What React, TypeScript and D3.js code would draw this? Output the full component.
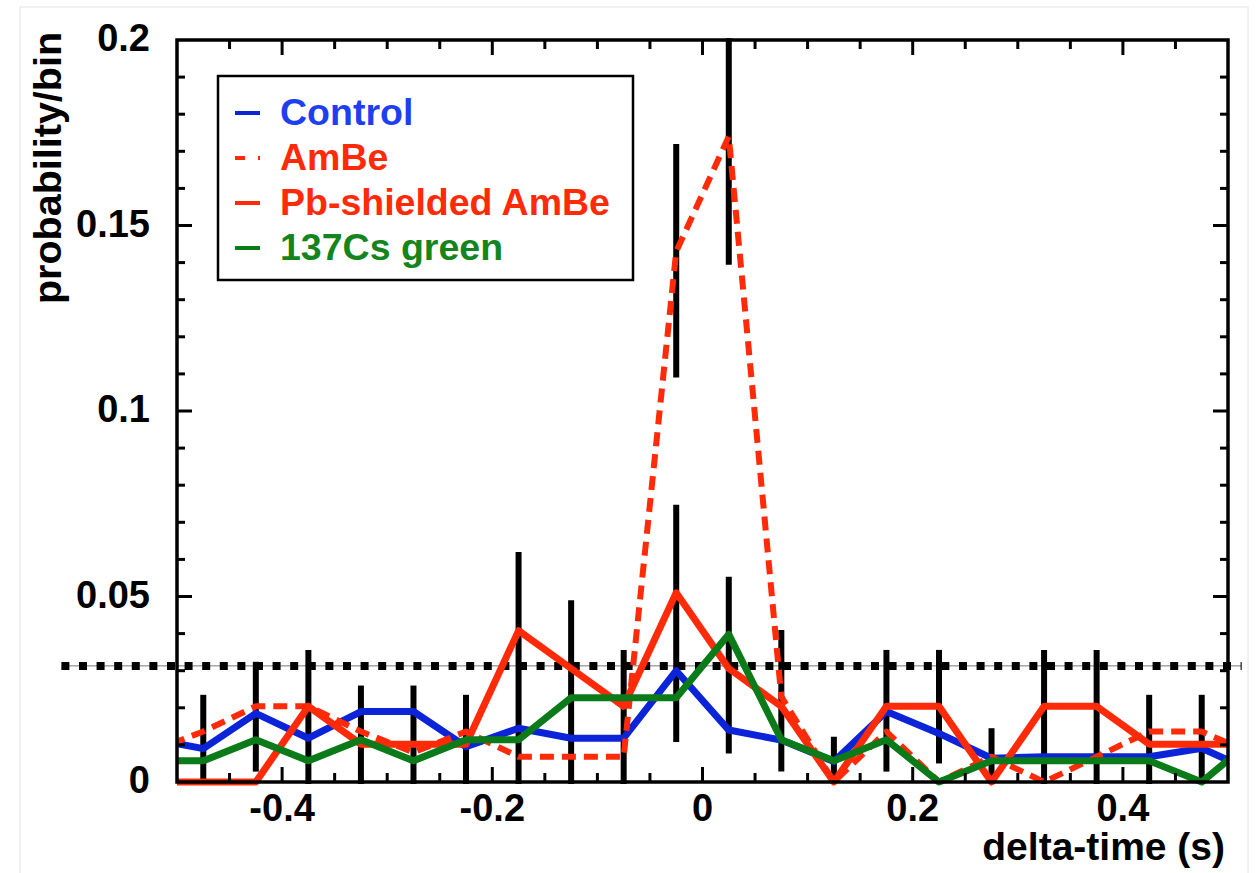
import React from "react";
import * as d3 from "d3";

// ---- data ----
const binCenters = [-0.525, -0.475, -0.425, -0.375, -0.325, -0.275, -0.225, -0.175, -0.125, -0.075, -0.025, 0.025, 0.075, 0.125, 0.175, 0.225, 0.275, 0.325, 0.375, 0.425, 0.475, 0.525];
const control = [0.0117, 0.009, 0.0185, 0.0118, 0.019, 0.019, 0.0095, 0.0145, 0.0118, 0.0118, 0.030, 0.014, 0.0113, 0.0055, 0.019, 0.0131, 0.0064, 0.0068, 0.0068, 0.0068, 0.0091, 0.0027];
const amBe = [0.0082, 0.0136, 0.0204, 0.0204, 0.0136, 0.008, 0.0136, 0.0068, 0.0068, 0.0068, 0.143, 0.174, 0.023, 0.0, 0.0136, 0.0, 0.0068, 0.0, 0.0068, 0.0136, 0.0136, 0.0074];
const pbShielded = [0, 0, 0, 0.0204, 0.0102, 0.0102, 0.0102, 0.0408, 0.0306, 0.0204, 0.051, 0.0306, 0.0204, 0, 0.0204, 0.0204, 0, 0.0204, 0.0204, 0.0102, 0.0102, 0.0102];
const cs137 = [0.0057, 0.0057, 0.0114, 0.0057, 0.0114, 0.0057, 0.0114, 0.0114, 0.0227, 0.0227, 0.0227, 0.0398, 0.0114, 0.0057, 0.0114, 0, 0.0057, 0.0057, 0.0057, 0.0057, 0, 0.0118];

const errX = [-0.475, -0.425, -0.375, -0.325, -0.275, -0.225, -0.175, -0.125, -0.075, -0.025, -0.025, 0.025, 0.025, 0.075, 0.125, 0.175, 0.225, 0.275, 0.325, 0.375, 0.425, 0.475];
const errLo = [0, 0.0028, 0, 0, 0, 0, 0, 0, 0, 0.0108, 0.109, 0.0077, 0.1394, 0.0028, 0, 0.0028, 0.005, 0, 0, 0, 0, 0];
const errHi = [0.0235, 0.0324, 0.0356, 0.026, 0.026, 0.0235, 0.062, 0.049, 0.0356, 0.0747, 0.172, 0.0553, 0.2005, 0.041, 0.0122, 0.0356, 0.0356, 0.0145, 0.0356, 0.0356, 0.0235, 0.0235];

const threshold = 0.0313;
const thresholdSpan = [-0.61, 0.513];

const xTickLabels = [-0.4, -0.2, 0, 0.2, 0.4];
const yTickLabels = [0, 0.05, 0.1, 0.15, 0.2];
const xMinorTicks = [-0.45, -0.4, -0.35, -0.3, -0.25, -0.2, -0.15, -0.1, -0.05, 0, 0.05, 0.1, 0.15, 0.2, 0.25, 0.3, 0.35, 0.4, 0.45];
const yMinorTicks = [0.01, 0.02, 0.03, 0.04, 0.05, 0.06, 0.07, 0.08, 0.09, 0.1, 0.11, 0.12, 0.13, 0.14, 0.15, 0.16, 0.17, 0.18, 0.19];

const legendNames = ["Control", "AmBe", "Pb-shielded AmBe", "137Cs green"];

const BLUE = "#0b24d8";
const RED = "#ff2a08";
const GREEN = "#0b7a18";
const FONT = "'Liberation Sans', Arial, Helvetica, sans-serif";

export default function App() {
  const W = 1258, H = 873;
  const left = 177, right = 1228, top = 40, bottom = 782;
  const x = d3.scaleLinear().domain([-0.5, 0.5]).range([left, right]);
  const y = d3.scaleLinear().domain([0, 0.2]).range([bottom, top]);

  const lineGen = (vals: number[]) =>
    d3.line<number>()
      .x((_, i) => x(binCenters[i]))
      .y((d) => y(d))(vals) || "";

  const series = [
    { vals: control, color: BLUE, dash: undefined as string | undefined, w: 7 },
    { vals: amBe, color: RED, dash: "14,8", w: 6 },
    { vals: pbShielded, color: RED, dash: undefined, w: 7 },
    { vals: cs137, color: GREEN, dash: undefined, w: 7 },
  ];

  const isMajorX = (v: number) => xTickLabels.some((t) => Math.abs(t - v) < 1e-6);
  const isMajorY = (v: number) => yTickLabels.some((t) => Math.abs(t - v) < 1e-6);

  const legendColors = [BLUE, RED, RED, GREEN];
  const legendTextColors = ["#1e3ff0", "#ff2a08", "#ff2a08", "#14841c"];
  const legendDash = [undefined, "10,13", undefined, undefined];
  const legendY = [113, 158, 203, 248];

  return (
    <svg width={W} height={H} style={{ position: "absolute", left: 0, top: 0, background: "#fff" }} fontFamily={FONT}>
      <defs>
        <clipPath id="plotclip">
          <rect x={left} y={0} width={right - left} height={H} />
        </clipPath>
        <filter id="blur" x="-5%" y="-200%" width="110%" height="500%">
          <feGaussianBlur stdDeviation="0.8" />
        </filter>
      </defs>
      <rect x={20} y={7} width={1228} height={880} fill="none" stroke="#e4e4e4" strokeWidth={1} />

      {/* threshold dotted line */}
      <g>
        <line x1={x(thresholdSpan[0])} x2={x(thresholdSpan[1])} y1={y(threshold)} y2={y(threshold)} stroke="#000" strokeWidth={9} strokeDasharray="8,9.6" opacity={0.25} filter="url(#blur)" />
        <line x1={x(thresholdSpan[0])} x2={x(thresholdSpan[1])} y1={y(threshold)} y2={y(threshold)} stroke="#777" strokeWidth={1} />
        <line x1={x(thresholdSpan[0])} x2={x(thresholdSpan[1])} y1={y(threshold)} y2={y(threshold)} stroke="#000" strokeWidth={8} strokeDasharray="8,9.6" />
      </g>

      {/* error bars */}
      <g>
        {errX.map((v, i) => (
          <line key={i} x1={x(v)} x2={x(v)} y1={y(errLo[i]) + (errLo[i] === 0 ? 2 : 0)} y2={y(errHi[i])} stroke="#000" strokeWidth={6} />
        ))}
      </g>

      {/* series */}
      <g clipPath="url(#plotclip)">
        {series.map((s, i) => (
          <path key={i} d={lineGen(s.vals)} fill="none" stroke={s.color} strokeWidth={s.w} strokeDasharray={s.dash} strokeLinejoin="round" />
        ))}
      </g>

      {/* axes frame */}
      <rect x={left} y={top} width={right - left} height={bottom - top} fill="none" stroke="#000" strokeWidth={3.5} />

      {/* ticks */}
      <g stroke="#000" strokeWidth={3}>
        {xMinorTicks.map((v, i) => {
          const len = isMajorX(v) ? 15 : 9;
          return (
            <g key={i}>
              <line x1={x(v)} x2={x(v)} y1={bottom} y2={bottom - len} />
              <line x1={x(v)} x2={x(v)} y1={top} y2={top + len} />
            </g>
          );
        })}
        {yMinorTicks.map((v, i) => {
          const len = isMajorY(v) ? 15 : 8;
          return (
            <g key={i}>
              <line x1={left} x2={left + len} y1={y(v)} y2={y(v)} />
              <line x1={right} x2={right - len} y1={y(v)} y2={y(v)} />
            </g>
          );
        })}
      </g>

      {/* tick labels */}
      <g fontWeight="bold" fontSize={38} fill="#000">
        {xTickLabels.map((v, i) => (
          <text key={i} x={x(v)} y={821} textAnchor="middle">{v === 0 ? "0" : (v < 0 ? "-" : "") + String(Math.abs(v))}</text>
        ))}
        {yTickLabels.map((v, i) => (
          <text key={i} x={150} y={y(v) + 11} textAnchor="end">{String(v)}</text>
        ))}
      </g>

      {/* axis titles */}
      <text x={1225} y={860} textAnchor="end" fontWeight="bold" fontSize={39}>delta-time (s)</text>
      <text transform={`translate(61,168) rotate(-90)`} textAnchor="middle" fontWeight="bold" fontSize={39.5}>probability/bin</text>

      {/* legend */}
      <g>
        <rect x={218} y={76} width={415} height={204} fill="#fff" stroke="#000" strokeWidth={2.5} />
        {legendNames.map((n, i) => (
          <g key={i}>
            <line x1={235} x2={260} y1={legendY[i]} y2={legendY[i]} stroke={legendColors[i]} strokeWidth={4} strokeDasharray={legendDash[i]} />
            <text x={280} y={legendY[i] + 12} fontWeight="bold" fontSize={37.5} fill={legendTextColors[i]}>{n}</text>
          </g>
        ))}
      </g>
    </svg>
  );
}
